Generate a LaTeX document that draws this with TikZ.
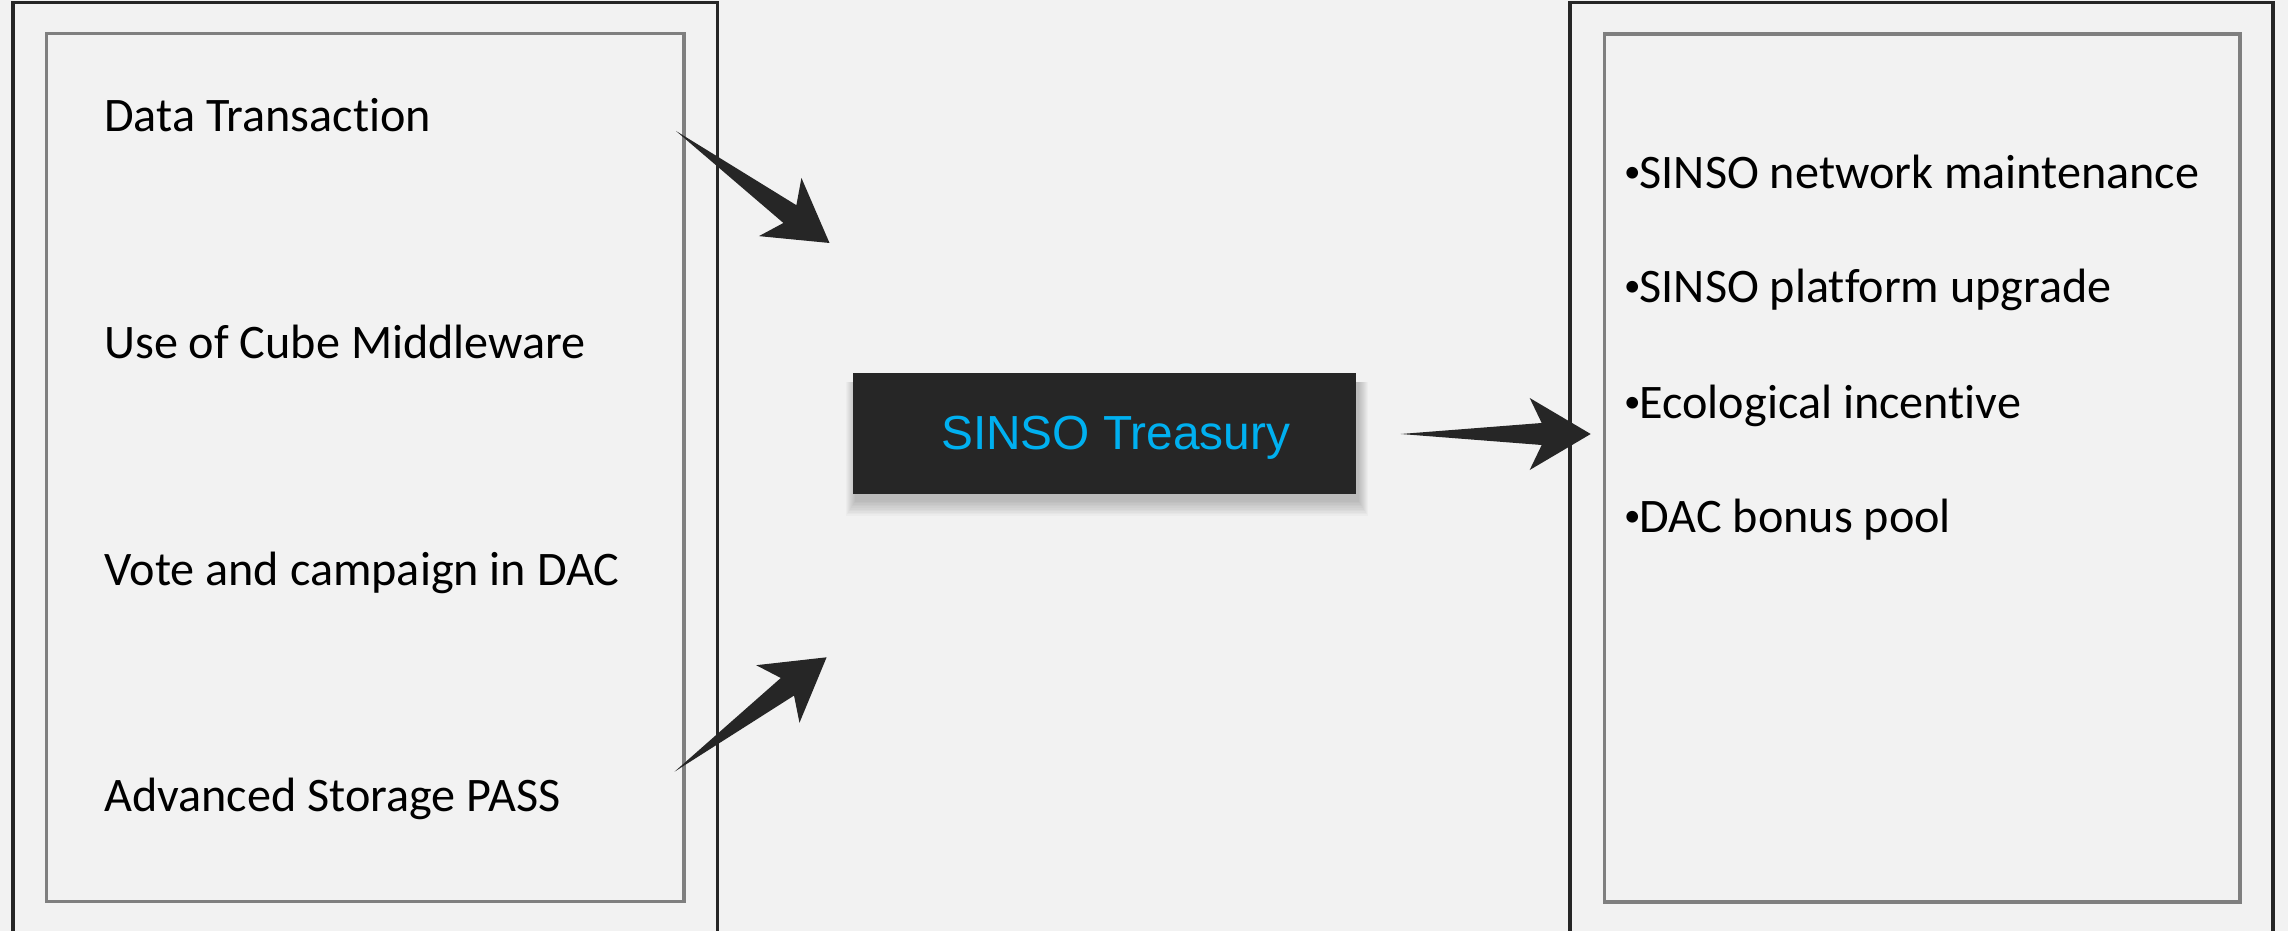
\documentclass[tikz,border=0pt]{standalone}
\usepackage{fontspec}
\setmainfont{Carlito}[Ligatures=NoCommon]
\newfontfamily\arialf{Liberation Sans}
\usetikzlibrary{calc}
\definecolor{bgc}{HTML}{F2F2F2}
\definecolor{darkc}{HTML}{262626}
\definecolor{innerc}{HTML}{7F7F7F}
\definecolor{cyanc}{HTML}{00B0F0}
\tikzset{
  outerframe/.style={draw=darkc, line width=0.92pt},
  innerframe/.style={draw=innerc, line width=0.88pt},
  item/.style={inner sep=0pt, anchor=base west, text=black, font=\fontsize{13.7}{16}\selectfont},
  treasurybox/.style={fill=darkc, draw=none, inner sep=0pt, minimum width=5.03cm, minimum height=1.21cm},
  treasurytext/.style={inner sep=0pt, anchor=base west, text=cyanc, font=\arialf\fontsize{13.6}{16}\selectfont},
  arrowfill/.style={fill=darkc, draw=none},
}
\newcommand\smallbul{\makebox[4.4pt][l]{\raisebox{1.7pt}{\fontsize{9.4}{10}\selectfont •}}}
\newcommand\taperarrow[2]{%
  \path ($(#2)!0.61cm!(#1)$) coordinate (tmpbarb) ($(#2)!0.49cm!(#1)$) coordinate (tmpneck);
  \fill[arrowfill] (#1) -- ($(tmpneck)!0.11cm!90:(#1)$) -- ($(tmpbarb)!0.36cm!90:(#1)$) -- (#2)
     -- ($(tmpbarb)!0.36cm!-90:(#1)$) -- ($(tmpneck)!0.11cm!-90:(#1)$) -- cycle;
}
\begin{document}
\begin{tikzpicture}[x=0.01cm,y=-0.01cm]
\useasboundingbox (0,0) rectangle (2288,931);
\clip (0,0) rectangle (2288,931);
\fill[bgc] (0,0) rectangle (2288,931);

% frames
\draw[outerframe] (13,2.5) rectangle (717.5,960);
\draw[innerframe] (46.5,33.5) rectangle (684,901.5);
\draw[outerframe] (1570,2.5) rectangle (2273,960);
\draw[innerframe] (1604.3,34) rectangle (2240,902);

% left items
\node[item] (t1) at (103.6,131.7) {Data Transaction};
\node[item] (t2) at (103.6,359) {Use of Cube Middleware};
\node[item] (t3) at (103.6,585.7) {Vote and campaign in DAC};
\node[item] (t4) at (103.6,811.7) {Advanced Storage PASS};

% right items
\node[item] (r1) at (1623.5,188.8) {\smallbul SINSO network maintenance};
\node[item] (r2) at (1623.5,302.9) {\smallbul SINSO platform upgrade};
\node[item] (r3) at (1623.5,418.6) {\smallbul Ecological incentive};
\node[item] (r4) at (1623.5,532.7) {\smallbul DAC bonus pool};

% shadow of treasury box
\foreach \i in {1,...,10} {
  \fill[black, opacity=0.022] ({856-\i*1.0},382) rectangle ({1358+\i*1.0},{500+\i*1.6});
}
\node[treasurybox] (tr) at (1104.5,433.8) {};
\node[treasurytext] (trt) at (940.5,450) {SINSO Treasury};

% arrows
\coordinate (a1s) at (676,131);
\coordinate (a1e) at (829.5,243);
\coordinate (a2s) at (674.5,771.7);
\coordinate (a2e) at (826.6,657.3);
\coordinate (a3s) at (1400.7,434);
\coordinate (a3e) at (1590.7,434);
\taperarrow{a1s}{a1e}
\taperarrow{a2s}{a2e}
\taperarrow{a3s}{a3e}
\end{tikzpicture}
\end{document}
